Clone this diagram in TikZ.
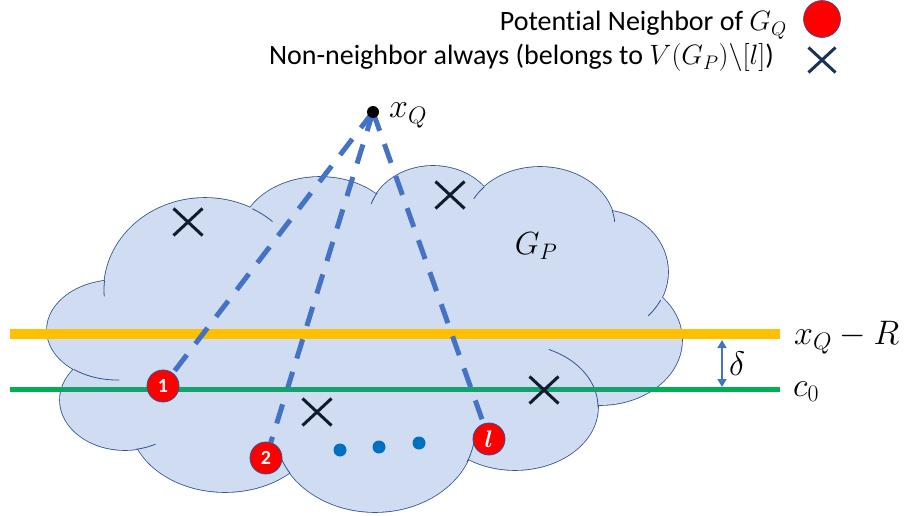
\RequirePackage{fix-cm}
\documentclass[tikz,border=0pt]{standalone}
\usepackage{amsmath}
\usepackage{fontspec}
\setmainfont{Carlito}[Ligatures=NoCommon]
\usetikzlibrary{arrows.meta,shapes.misc}
\definecolor{cloudfill}{RGB}{208,220,241}
\definecolor{cloudline}{HTML}{2F528F}
\definecolor{orng}{HTML}{FFC000}
\definecolor{grn}{HTML}{00B050}
\definecolor{tealg}{RGB}{22,160,110}
\definecolor{dashblue}{HTML}{4472C4}
\definecolor{dotblue}{HTML}{0070C0}
\definecolor{xcol}{HTML}{111A2E}
\pgfdeclarelayer{bg}
\pgfsetlayers{bg,main}
\def\lobelist{205/290/101/92, 320/237/80/60, 433/221/65/55, 540/227/75/60,
  600/272/68/62, 600/340/82/65, 515/407/83/63, 375/430/100/82,
  225/420/95/72, 125/400/65/50, 117/330/70/50}
\tikzset{
  redpt/.style={circle, fill=red, draw=cloudline, line width=0.8pt, minimum size=32pt, inner sep=0pt,
    text=white, font=\fontsize{20}{22}\selectfont\bfseries},
  xmark/.style={cross out, draw=xcol, line width=3pt, minimum width=26pt, minimum height=24pt, inner sep=0pt},
  bluedot/.style={circle, fill=dotblue, minimum size=13pt, inner sep=0pt},
  ray/.style={dashblue, line width=5pt, dash pattern=on 20pt off 14pt},
  mathlbl/.style={inner sep=0pt, font=\fontsize{34}{38}\selectfont},
  legend/.style={inner sep=0pt, font=\fontsize{28}{32}\selectfont},
  stub/.style={cloudline, line width=0.8pt}
}
\begin{document}
\begin{tikzpicture}[x=1pt,y=-1pt]
\useasboundingbox (0,0) rectangle (906,516);
% nodes
\node[circle, fill=black, minimum size=12pt, inner sep=0pt] (xq) at (373,112) {};
\node[mathlbl, anchor=base west] (xqlbl) at (389,118) {$x_Q$};
\node[redpt] (n1) at (163,386) {1};
\node[redpt] (n2) at (266,458) {2};
\node[redpt, font=\fontsize{24}{26}\selectfont] (nl) at (489,439) {$\boldsymbol{l}$};
\node[xmark] (x1) at (188,222) {};
\node[xmark] (x2) at (450,195) {};
\node[xmark] (x3) at (317,412) {};
\node[xmark] (x4) at (544,390) {};
\node[bluedot] (d1) at (340,450) {};
\node[bluedot] (d2) at (379,447) {};
\node[bluedot] (d3) at (419,443) {};
\node[mathlbl, font=\fontsize{32}{36}\selectfont] (gp) at (536,246) {$G_P$};
\node[mathlbl, anchor=base west] (lblR) at (794,344) {$x_Q-R$};
\node[mathlbl, anchor=base west] (lblc) at (793,396) {$c_0$};
\node[mathlbl, anchor=base west] (lbld) at (729,375) {$\delta$};
% legend
\node[legend, anchor=base east] (leg1) at (787,31) {Potential Neighbor of $G_Q$};
\node[circle, fill=red, draw=cloudline, line width=0.6pt, minimum size=37pt, inner sep=0pt] (legdot) at (822,19) {};
\node[legend, anchor=base east] (leg2) at (774,65) {Non-neighbor always (belongs to $V(G_P)\backslash[l]$)};
\node[cross out, draw=cloudline!60!black, line width=3pt, minimum width=24pt, minimum height=22pt, inner sep=0pt] (legx) at (822,60) {};
% line ends
\coordinate (oL) at (10,334);
\coordinate (oR) at (780,334);
\coordinate (gL) at (10,389.5);
\coordinate (gR) at (780,389.5);
\coordinate (dT) at (722,340);
\coordinate (dB) at (722,387);
\begin{pgfonlayer}{bg}
  % cloud
  \draw[cloudline, line width=1.6pt] \foreach \cx/\cy/\rx/\ry in \lobelist {(\cx,\cy) ellipse [x radius=\rx, y radius=\ry]};
  \fill[cloudfill] \foreach \cx/\cy/\rx/\ry in \lobelist {(\cx,\cy) ellipse [x radius=\rx, y radius=\ry]};
  \fill[cloudfill] (110,300) -- (250,230) -- (330,205) -- (440,200) -- (550,210) -- (620,250)
     -- (640,330) -- (560,420) -- (400,470) -- (220,460) -- (100,400) -- cycle;
  % inner arcs
  \draw[stub] plot[domain=186:176, samples=8, variable=\t] ({205+101*cos(\t)},{290+92*sin(\t)});
  \draw[stub] plot[domain=-62:-48, samples=8, variable=\t] ({205+101*cos(\t)},{290+92*sin(\t)});
  \draw[stub] plot[domain=211:198, samples=8, variable=\t] ({433+65*cos(\t)},{221+55*sin(\t)});
  \draw[stub] plot[domain=222:208, samples=8, variable=\t] ({540+75*cos(\t)},{227+60*sin(\t)});
  \draw[stub] plot[domain=-16:-5, samples=8, variable=\t] ({540+75*cos(\t)},{227+60*sin(\t)});
  \draw[stub] plot[domain=27:45, samples=8, variable=\t] ({600+68*cos(\t)},{272+62*sin(\t)});
  \draw[stub] plot[domain=-66:0, samples=20, variable=\t] ({515+83*cos(\t)},{407+63*sin(\t)});
  \draw[stub] plot[domain=23:8, samples=8, variable=\t] ({375+100*cos(\t)},{430+82*sin(\t)});
  \draw[stub] plot[domain=148:162, samples=8, variable=\t] ({375+100*cos(\t)},{430+82*sin(\t)});
  \draw[stub] plot[domain=80:62, samples=8, variable=\t] ({125+65*cos(\t)},{400+50*sin(\t)});
  \draw[stub] plot[domain=128:88, samples=14, variable=\t] ({117+70*cos(\t)},{330+50*sin(\t)});
  % horizontal lines
  \draw[orng, line width=10pt] (oL) -- (oR);
  \draw[ray] (xq.center) -- (n1);
  \draw[ray] (xq.center) -- (n2);
  \draw[ray] (xq.center) -- (nl);
  \draw[grn, line width=5pt] (gL) -- (gR);
  \begin{scope}
    \clip \foreach \cx/\cy/\rx/\ry in \lobelist {(\cx,\cy) ellipse [x radius=\rx, y radius=\ry]};
    \draw[tealg, line width=5pt] (gL) -- (gR);
  \end{scope}
  \draw[dashblue, line width=1.5pt, {Triangle[length=8pt,width=9pt]}-{Triangle[length=8pt,width=9pt]}] (dT) -- (dB);
\end{pgfonlayer}
\end{tikzpicture}
\end{document}
